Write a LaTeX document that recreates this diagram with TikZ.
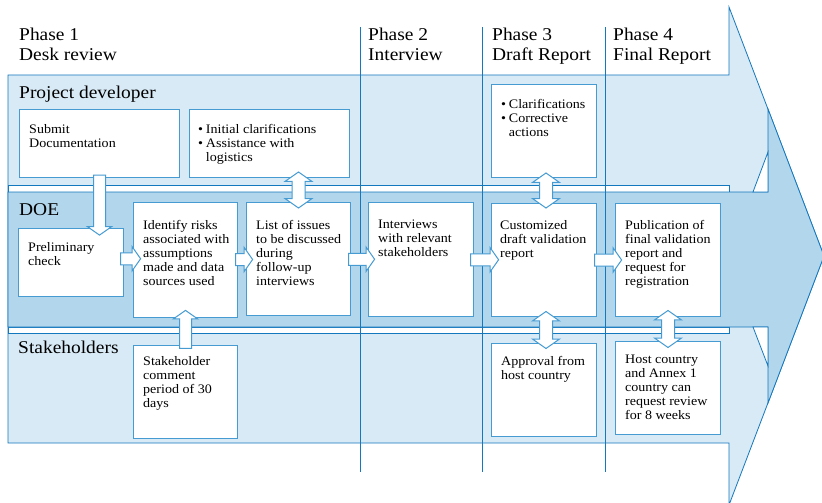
\documentclass[tikz,border=0pt]{standalone}
\usepackage{fontspec}
\setmainfont{Liberation Serif}[FakeStretch=1.08]
\usetikzlibrary{math,calc,shapes.arrows}

\definecolor{laneline}{RGB}{20,120,190}
\definecolor{boxline}{RGB}{70,155,210}
\definecolor{lanelight}{RGB}{216,234,246}
\definecolor{lanemid}{RGB}{178,214,236}

\newcommand\bul{\textbullet\hspace{0.22em}}

\tikzset{
  lane/.style={draw=laneline, line width=0.8pt},
  box/.style={draw=boxline, line width=1pt, fill=white, anchor=north west, inner sep=0pt},
  boxtext/.style={anchor=north west, inner sep=0pt, align=left, font=\fontsize{13}{14}\selectfont},
  phasetext/.style={anchor=north west, inner sep=0pt, align=left, font=\fontsize{18}{20}\selectfont},
  lanetext/.style={anchor=base west, inner sep=0pt, font=\fontsize{18}{20}\selectfont},
  blockarr/.style={single arrow, draw=boxline, line width=1pt, fill=white, inner xsep=0pt, inner ysep=5.5pt,
    single arrow head extend=6pt, single arrow tip angle=110},
  dblarr/.style={double arrow, draw=boxline, line width=1pt, fill=white, inner xsep=0pt, inner ysep=6pt,
    double arrow head extend=7pt, double arrow tip angle=110, rotate=90},
}

\begin{document}
\begin{tikzpicture}[x=1pt, y=-1pt]
  \tikzmath{\laneL = 8;}
  \tikzmath{\headL = 729;}
  \tikzmath{\headM = 768;}
  \tikzmath{\tipx = 824;}
  \tikzmath{\tipy = 256;}

  \useasboundingbox (0,0) rectangle (822,503);
  \clip (0,0) rectangle (822,503);

  % big arrow, light lanes
  \filldraw[lane, fill=lanelight] (\laneL,75) -- (\headL,75) -- (\headL,7) -- (\tipx,\tipy)
    -- (\headL,505) -- (\headL,443) -- (\laneL,443) -- cycle;

  % gaps between lanes
  \filldraw[lane, fill=white] (\laneL,185) rectangle (\headL,192);
  \filldraw[lane, fill=white] (\laneL,327) rectangle (\headL,333);

  % DOE lane arrow
  \filldraw[lane, fill=lanemid] (\laneL,192) -- (\headM,192) -- (\headM,109) -- (\tipx,\tipy)
    -- (\headM,403) -- (\headM,327) -- (\laneL,327) -- cycle;
  \filldraw[lane, fill=white] (753,192) -- (\headM,152) -- (\headM,192) -- cycle;
  \filldraw[lane, fill=white] (753,327) -- (\headM,366) -- (\headM,327) -- cycle;

  % phase columns
  \foreach \px in {360,482,605}
    \draw[lane] (\px,27) -- (\px,472);

  \node[phasetext] (ph1) at (19,28) {Phase 1\\Desk review};
  \node[phasetext] (ph2) at (368,28) {Phase 2\\Interview};
  \node[phasetext] (ph3) at (492,28) {Phase 3\\Draft Report};
  \node[phasetext] (ph4) at (613,28) {Phase 4\\Final Report};

  % lane names
  \node[lanetext] (pd) at (19,98) {Project developer};
  \node[lanetext] (doe) at (19,215) {DOE};
  \node[lanetext] (sh) at (18,353) {Stakeholders};

  % project developer boxes
  \node[box, minimum width=160pt, minimum height=68pt] (submit) at (19,109) {};
  \node[box, minimum width=160pt, minimum height=68pt] (initc) at (189,109) {};
  \node[box, minimum width=105pt, minimum height=93pt] (clarif) at (491,84) {};

  % DOE boxes
  \node[box, minimum width=105pt, minimum height=68pt] (prelim) at (18,228) {};
  \node[box, minimum width=104pt, minimum height=115pt] (risk) at (133,202) {};
  \node[box, minimum width=104pt, minimum height=113pt] (issues) at (246,202) {};
  \node[box, minimum width=105pt, minimum height=114pt] (interv) at (368,202) {};
  \node[box, minimum width=105pt, minimum height=113pt] (draft) at (491,203) {};
  \node[box, minimum width=105pt, minimum height=113pt] (publ) at (615,203) {};

  % stakeholder boxes
  \node[box, minimum width=104pt, minimum height=93pt] (stake) at (133,345) {};
  \node[box, minimum width=105pt, minimum height=93pt] (approv) at (491,343) {};
  \node[box, minimum width=105pt, minimum height=93pt] (host) at (615,341) {};

  % box texts
  \node[boxtext] (submit-t) at ($(submit.north west)+(10,15)$) {Submit\\Documentation};
  \node[boxtext] (initc-t) at ($(initc.north west)+(9,15)$)
    {\bul Initial clarifications\\\bul Assistance with\\\phantom{\bul}logistics};
  \node[boxtext] (clarif-t) at ($(clarif.north west)+(10,15)$)
    {\bul Clarifications\\\bul Corrective\\\phantom{\bul}actions};
  \node[boxtext] (prelim-t) at ($(prelim.north west)+(10,14)$) {Preliminary\\check};
  \node[boxtext] (risk-t) at ($(risk.north west)+(10,18)$)
    {Identify risks\\associated with\\assumptions\\made and data\\sources used};
  \node[boxtext] (issues-t) at ($(issues.north west)+(10,18)$)
    {List of issues\\to be discussed\\during\\follow-up\\interviews};
  \node[boxtext] (interv-t) at ($(interv.north west)+(10,18)$) {Interviews\\with relevant\\stakeholders};
  \node[boxtext] (draft-t) at ($(draft.north west)+(9,17)$) {Customized\\draft validation\\report};
  \node[boxtext] (publ-t) at ($(publ.north west)+(10,17)$)
    {Publication of\\final validation\\report and\\request for\\registration};
  \node[boxtext] (stake-t) at ($(stake.north west)+(10,11)$) {Stakeholder\\comment\\period of 30\\days};
  \node[boxtext] (approv-t) at ($(approv.north west)+(10,13)$) {Approval from\\host country};
  \node[boxtext] (host-t) at ($(host.north west)+(10,14)$)
    {Host country\\and Annex 1\\country can\\request review\\for 8 weeks};

  % flow along the DOE lane
  \node[blockarr, minimum height=20pt] (a-prelim) at ($(prelim.east)!.5!(risk.west)+(0,-2.5)$) {};
  \node[blockarr, minimum height=17pt] (a-risk) at ($(risk.east)!.5!(issues.west)$) {};
  \node[blockarr, minimum height=26pt] (a-issues) at ($(issues.east)!.5!(interv.west)$) {};
  \node[blockarr, minimum height=28pt] (a-interv) at ($(interv.east)!.5!(draft.west)$) {};
  \node[blockarr, minimum height=27pt] (a-draft) at ($(draft.east)!.5!(publ.west)$) {};

  % between the lanes
  \node[blockarr, rotate=-90, minimum height=60pt] (a-submit) at ($(submit.south)+(0,25)$) {};
  \node[blockarr, rotate=90, minimum height=38pt] (a-stake) at ($(stake.north)!.5!(risk.south)$) {};
  \node[dblarr, minimum height=36pt] (d-initc) at ($(issues.north)+(0,-12)$) {};
  \node[dblarr, minimum height=35pt] (d-clarif) at ($(clarif.south)!.5!(draft.north)+(2,0)$) {};
  \node[dblarr, minimum height=37pt] (d-approv) at ($(draft.south)!.5!(approv.north)+(2,0)$) {};
  \node[dblarr, minimum height=37pt] (d-host) at ($(publ.south)!.5!(host.north)$) {};
\end{tikzpicture}
\end{document}
